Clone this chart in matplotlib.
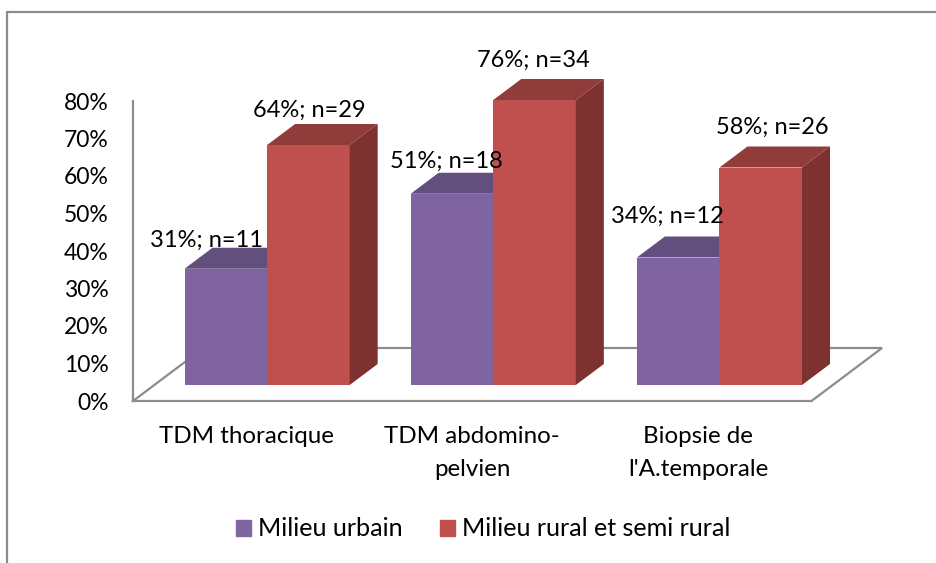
#!/usr/bin/env python

import matplotlib
matplotlib.use('Agg')
import numpy as np
import matplotlib.pyplot as plt
from matplotlib.lines import Line2D

categories = ['TDM thoracique', 'TDM abdomino-\npelvien', "Biopsie de\nl'A.temporale"]
urbain = [31, 51, 34]
urbain_n = [11, 18, 12]
rural = [64, 76, 58]
rural_n = [29, 34, 26]
yticks = [0, 10, 20, 30, 40, 50, 60, 70, 80]

W, H = 937, 563
plt.rcParams['font.family'] = ['Lato', 'DejaVu Sans']
GRAY = '#8c8c8c'

fig = plt.figure(figsize=(W / 100, H / 100), dpi=100)
ax = fig.add_axes([133 / W, 1 - 401 / H, (811.5 - 133) / W, 300 / H])
ax.set_xlim(-0.5, 2.5)
ax.set_ylim(0, 80)

# fake 3d: depth of the floor and of the bars, in data units
floor_dx, floor_dy = 70.5 / 226, 53 / 3.75
depth_dx, depth_dy = 28 / 226, 21 / 3.75
base = 16 / 3.75
width = 82.5 / 226
shift = 21 / 226

x = np.arange(len(categories))

# floor outline
ax.plot([-0.5, -0.5 + floor_dx, 2.5 + floor_dx, 2.5], [0, floor_dy, floor_dy, 0],
        color=GRAY, lw=1.6, clip_on=False, zorder=1, solid_joinstyle='miter')


def draw_series(xs, vals, front, top, side, z):
    tops = base + np.array(vals)
    ax.bar(xs, vals, width=width, bottom=base, align='edge',
           color=front, zorder=z, clip_on=False)
    for xi, v in zip(xs, tops):
        ax.fill([xi, xi + depth_dx, xi + width + depth_dx, xi + width],
                [v, v + depth_dy, v + depth_dy, v], color=top, lw=0, zorder=z, clip_on=False)
        ax.fill([xi + width, xi + width + depth_dx, xi + width + depth_dx, xi + width],
                [base, base + depth_dy, v + depth_dy, v], color=side, lw=0, zorder=z, clip_on=False)


draw_series(x + shift - width, urbain, '#8064a2', '#634f7d', '#533f6a', 2)
draw_series(x + shift, rural, '#c0504d', '#903c3a', '#7d3230', 3)

# label offsets in px from the middle of the top front edge
off_u = [(-19, 28), (-6, 32), (-11, 41)]
off_r = [(1, 35), (-1, 40), (12, 40)]
for i in x:
    ax.annotate('%d%%; n=%d' % (urbain[i], urbain_n[i]),
                (i + shift - width / 2, base + urbain[i]), xytext=(off_u[i][0] * 0.72, off_u[i][1] * 0.72),
                textcoords='offset points', ha='center', va='center', fontsize=17, zorder=5,
                color='black', annotation_clip=False)
    ax.annotate('%d%%; n=%d' % (rural[i], rural_n[i]),
                (i + shift + width / 2, base + rural[i]), xytext=(off_r[i][0] * 0.72, off_r[i][1] * 0.72),
                textcoords='offset points', ha='center', va='center', fontsize=17, zorder=5,
                color='black', annotation_clip=False)

ax.set_xticks(x)
ax.set_xticklabels(categories, fontsize=17.4, linespacing=1.7, va='top')
ax.set_yticks(yticks)
ax.set_yticklabels(['%d%%' % v for v in yticks], fontsize=16.5)
ax.tick_params(axis='x', length=0, pad=18)
ax.tick_params(axis='y', length=0, pad=17.5)
for s in ['top', 'right']:
    ax.spines[s].set_visible(False)
for s in ['left', 'bottom']:
    ax.spines[s].set_color(GRAY)
    ax.spines[s].set_linewidth(1.6)

# legend
hs = [plt.Rectangle((0, 0), 1, 1, color='#8064a2'), plt.Rectangle((0, 0), 1, 1, color='#c0504d')]
fig.legend(hs, ['Milieu urbain', 'Milieu rural et semi rural'], ncol=2, frameon=False,
           fontsize=18.1, loc='center left', bbox_to_anchor=(213 / W, 1 - 529 / H),
           handlelength=0.6, handleheight=0.6, handletextpad=0.28, columnspacing=1.5)

# outer frame, only left and top are in the crop
fig.add_artist(Line2D([7.5 / W, 7.5 / W, 1], [0, 1 - 12 / H, 1 - 12 / H], color=GRAY, lw=1.6,
                      solid_joinstyle='miter'))

fig.savefig('out.png', dpi=100)
